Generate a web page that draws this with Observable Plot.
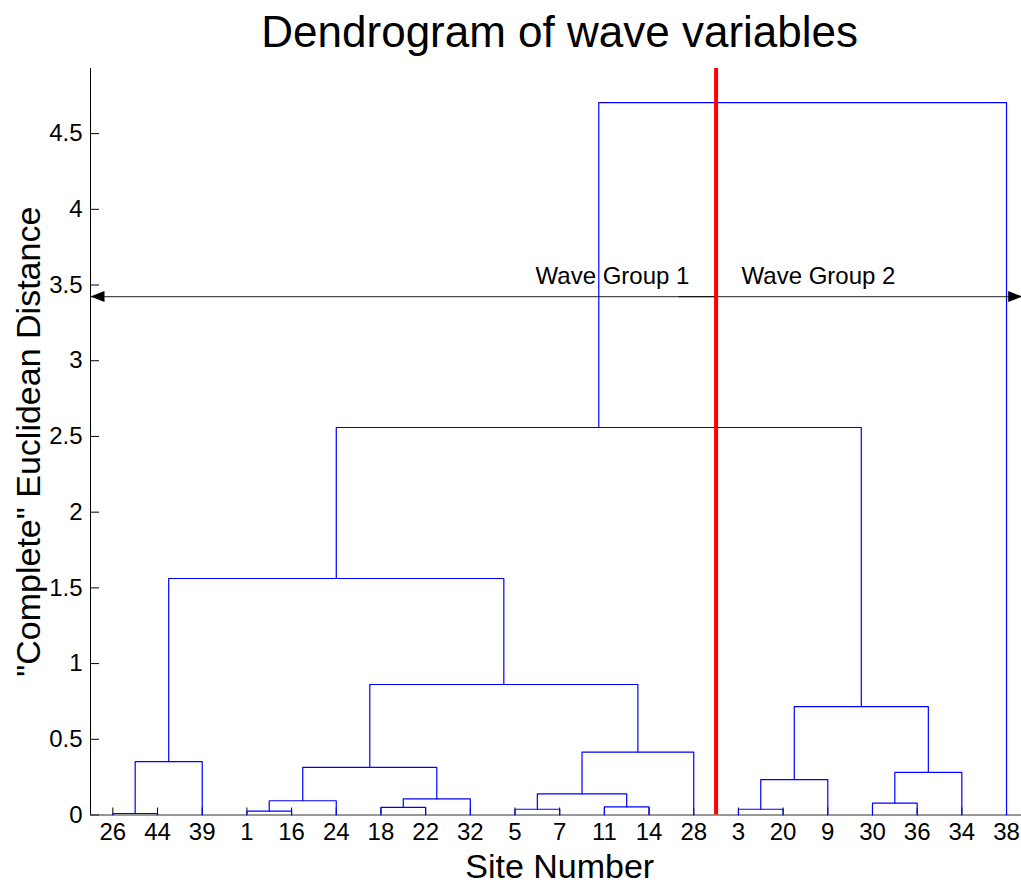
<!DOCTYPE html>
<html>
<head>
<meta charset="utf-8">
<script src="https://cdn.jsdelivr.net/npm/d3@7"></script>
<script src="https://cdn.jsdelivr.net/npm/@observablehq/plot@0.6"></script>
<style>
  html, body { margin: 0; padding: 0; background: #fff; }
  svg { display: block; }
</style>
</head>
<body>
<div id="chart"></div>
<script>
// Leaf order (left to right) of the dendrogram
const siteLabels = ["26","44","39","1","16","24","18","22","32","5","7","11","14","28","3","20","9","30","36","34","38"];

// Linkage: each merge joins two nodes (a site label or an earlier merge "cK") at a height
const mergeLeft   = ["26","c0","1","c2","18","c4","c3","5","11","c7","c9","c6","c1","3","c13","30","c15","c14","c12","c18"];
const mergeRight  = ["44","39","16","24","22","32","c5","7","14","c8","28","c10","c11","20","9","36","34","c16","c17","38"];
const mergeHeight = [0.01,0.353,0.025,0.094,0.05,0.106,0.314,0.038,0.054,0.14,0.415,0.862,1.562,0.038,0.234,0.078,0.281,0.716,2.559,4.705];

const yTicks = [0,0.5,1,1.5,2,2.5,3,3.5,4,4.5];

// Annotations
const cutPosition = [14.5];             // red divider between site 28 and site 3
const arrowHeight = 3.424;
const arrowLeft  = {from: 14.5,  to: 0.5};
const arrowRight = {from: 13.66, to: 21.35};
const groupLabels = ["Wave Group 1", "Wave Group 2"];
const groupLabelX = [10.46, 15.07];
const groupLabelY = [3.51, 3.51];

// ---- build dendrogram segments
const nodePos = new Map(), nodeHeight = new Map();
siteLabels.forEach((s, i) => { nodePos.set(s, i + 1); nodeHeight.set(s, 0); });
const links = [];
mergeLeft.forEach((a, k) => {
  const b = mergeRight[k], h = mergeHeight[k];
  const xa = nodePos.get(a), xb = nodePos.get(b);
  const ha = nodeHeight.get(a), hb = nodeHeight.get(b);
  links.push({id: k, x: xa, y: ha}, {id: k, x: xa, y: h}, {id: k, x: xb, y: h}, {id: k, x: xb, y: hb});
  nodePos.set("c" + k, (xa + xb) / 2);
  nodeHeight.set("c" + k, h);
});
const leafIdx = siteLabels.map((s, i) => i + 1);

const arrowSymbol = {
  draw(ctx) { ctx.moveTo(0, 0); ctx.lineTo(-14, -5.5); ctx.lineTo(-14, 5.5); ctx.closePath(); }
};

const font = "'Liberation Sans', Arial, Helvetica, sans-serif";

const chart = Plot.plot({
  width: 1021,
  height: 884,
  marginLeft: 90,
  marginRight: 0,
  marginTop: 68,
  marginBottom: 69.5,
  style: {fontFamily: font, fontSize: "24px", background: "#fff", color: "#000"},
  x: {domain: [0.5, 21.335], label: null},
  y: {domain: [0, 4.93], label: null},
  marks: [
    Plot.axisY({ticks: yTicks, tickSize: -9, tickPadding: 17, tickFormat: d => String(d), fontSize: 24, label: null}),
    Plot.axisX({ticks: leafIdx, tickSize: -7, tickPadding: 15, tickFormat: i => siteLabels[i - 1], fontSize: 24, label: null}),
    Plot.ruleX([0.5], {stroke: "#000", strokeWidth: 1}),
    Plot.ruleY([0], {stroke: "#333", strokeWidth: 1.2}),
    Plot.line(links, {x: "x", y: "y", z: "id", stroke: "#0000ff", strokeWidth: 1.2}),
    Plot.link([arrowLeft, arrowRight], {x1: "from", x2: "to", y1: arrowHeight, y2: arrowHeight, stroke: "#000", strokeOpacity: 0.7, strokeWidth: 1.2}),
    Plot.dot([arrowLeft], {x: "to", y: arrowHeight, symbol: arrowSymbol, rotate: 180, fill: "#000", stroke: "none"}),
    Plot.dot([arrowRight], {x: "to", y: arrowHeight, symbol: arrowSymbol, fill: "#000", stroke: "none"}),
    Plot.text(groupLabels, {x: (d, i) => groupLabelX[i], y: (d, i) => groupLabelY[i], text: d => d, textAnchor: "start", lineAnchor: "bottom", fontSize: 24, fill: "#000"}),
    Plot.ruleX(cutPosition, {stroke: "#ff0000", strokeWidth: 4}),
    Plot.text(["Dendrogram of wave variables"], {x: 11, frameAnchor: "top", dy: -22, lineAnchor: "bottom", textAnchor: "middle", fontSize: 44, fill: "#000"}),
    Plot.text(["Site Number"], {x: 11, frameAnchor: "bottom", dy: 62.5, lineAnchor: "bottom", textAnchor: "middle", fontSize: 34, fill: "#000"}),
    Plot.text(["\"Complete\" Euclidean Distance"], {frameAnchor: "left", dx: -51, rotate: -90, lineAnchor: "bottom", textAnchor: "middle", fontSize: 34, fill: "#000"})
  ]
});
document.getElementById("chart").appendChild(chart);
</script>
</body>
</html>
